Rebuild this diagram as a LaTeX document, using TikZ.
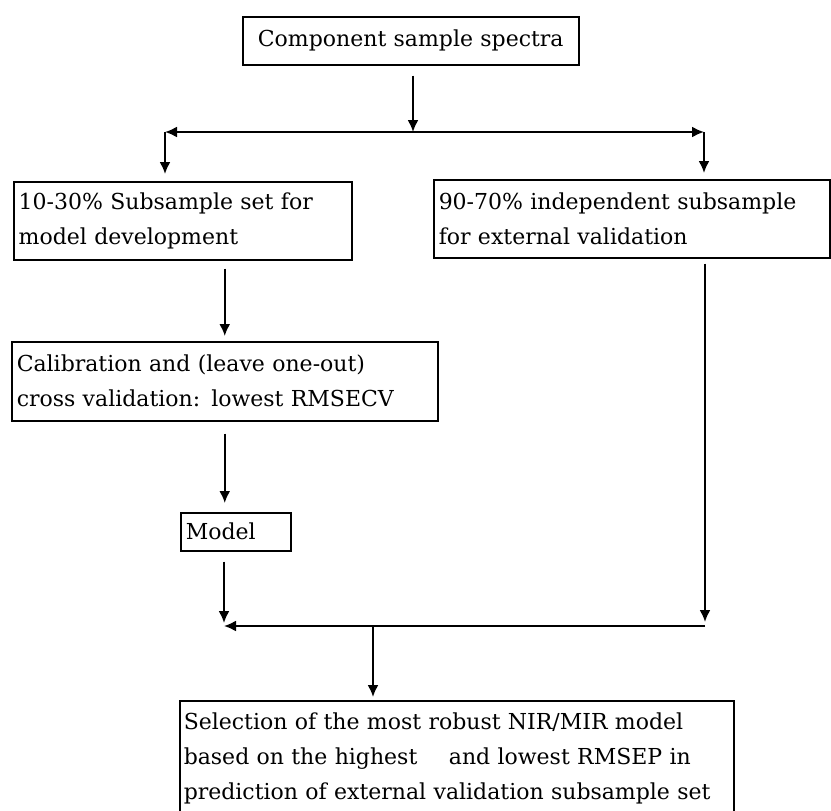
\documentclass[tikz,border=0pt]{standalone}
\usepackage{fontspec}
\setmainfont{DejaVu Serif}
\usetikzlibrary{arrows.meta}
\tikzset{
  flowbox/.style={draw, line width=1.5pt, anchor=north west, inner xsep=5pt, inner ysep=0pt, align=left, font=\fontsize{22}{35}\selectfont},
  flowarrow/.style={line width=2pt, -{Latex[length=12pt,width=11pt]}},
}
\begin{document}
\begin{tikzpicture}[x=1pt,y=1pt,yscale=-1]
\useasboundingbox (0,0) rectangle (831,811);

% Text Node
\node[flowbox, minimum width=336pt, minimum height=48pt, text width=326pt, align=center] (spectra) at (242,16) {Component sample spectra};
% Text Node
\node[flowbox, minimum width=338pt, minimum height=78pt, text width=328pt] (subset) at (13,181) {10-30\% Subsample set for\\model development};
% Text Node
\node[flowbox, minimum width=396pt, minimum height=78pt, text width=386pt] (extval) at (433,179) {90-70\% independent subsample\\for external validation};
% Text Node
\node[flowbox, minimum width=426pt, minimum height=79pt, text width=416pt] (calib) at (11,341) {Calibration and (leave one-out)\\cross validation: lowest RMSECV};
% Text Node
\node[flowbox, minimum width=110pt, minimum height=38pt, text width=100pt] (model) at (180,512) {Model};
% Text Node
\node[flowbox, minimum width=554pt, minimum height=115pt, text width=546pt, inner xsep=4pt] (select) at (179,700) {Selection of the most robust NIR/MIR model\\based on the highest\hspace{1.1em} and lowest RMSEP in\\prediction of external validation subsample set};

%Split and merge points
\coordinate (split) at (413,132);
\coordinate (splitL) at (165,132);
\coordinate (splitR) at (704,132);
\coordinate (mergeL) at (224,626);
\coordinate (mergeR) at (705,626);
\coordinate (mergeM) at (373,626);

%Straight Lines
\draw[flowarrow, shorten <=10pt] (spectra.south -| split) -- (split);
\draw[flowarrow] (split) -- (splitL);
\draw[flowarrow] (split) -- (splitR);
\draw[flowarrow, shorten >=7pt] (splitL) -- (splitL |- subset.north);
\draw[flowarrow, shorten >=6pt] (splitR) -- (splitR |- extval.north);

%Straight Lines
\draw[flowarrow, shorten <=8pt, shorten >=5pt] (subset.south -| calib.north) -- (calib.north);
\draw[flowarrow, shorten <=12pt, shorten >=9pt] (calib.south) -- (calib.south |- model.north);
\draw[flowarrow, shorten <=10pt, shorten >=3pt] (model.south -| mergeL) -- (mergeL);
\draw[flowarrow, shorten <=5pt, shorten >=4pt] (extval.south -| mergeR) -- (mergeR);

%Straight Lines
\draw[flowarrow] (mergeR) -- (mergeL);
\draw[flowarrow, shorten >=3pt] (mergeM) -- (mergeM |- select.north);

\end{tikzpicture}
\end{document}
